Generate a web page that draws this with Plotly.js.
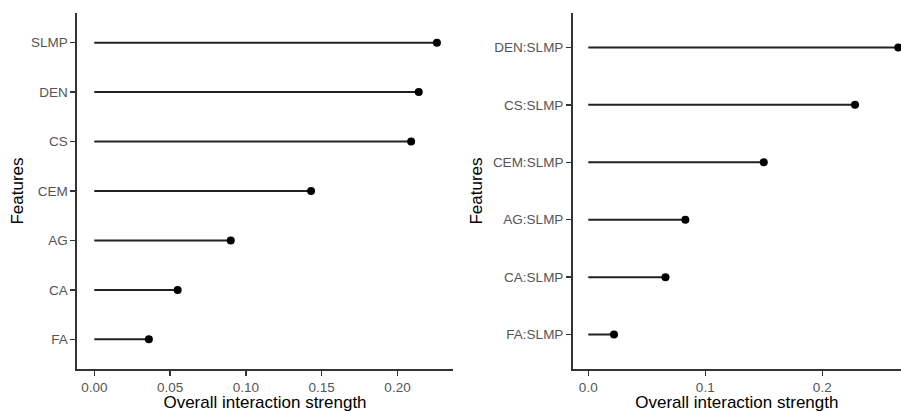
<!DOCTYPE html>
<html>
<head>
<meta charset="utf-8">
<script src="https://cdn.plot.ly/plotly-3.0.1.min.js"></script>
<style>html,body{margin:0;padding:0;background:#fff;}#chart{width:901px;height:412px;}</style>
</head>
<body>
<div id="chart"></div>
<script>
// Left panel: overall interaction strength per feature (top to bottom)
const featuresLeft = ['SLMP', 'DEN', 'CS', 'CEM', 'AG', 'CA', 'FA'];
const strengthLeft = [0.226, 0.214, 0.209, 0.143, 0.090, 0.055, 0.036];

// Right panel: two-way interaction strength with SLMP (top to bottom)
const featuresRight = ['DEN:SLMP', 'CS:SLMP', 'CEM:SLMP', 'AG:SLMP', 'CA:SLMP', 'FA:SLMP'];
const strengthRight = [0.265, 0.228, 0.150, 0.083, 0.066, 0.022];

const xTicksLeft = [0, 0.05, 0.10, 0.15, 0.20];
const xTickTextLeft = ['0.00', '0.05', '0.10', '0.15', '0.20'];
const xTicksRight = [0, 0.1, 0.2];
const xTickTextRight = ['0.0', '0.1', '0.2'];

function segments(cats, vals) {
  const x = [], y = [];
  cats.forEach((c, i) => { x.push(0, vals[i], null); y.push(c, c, null); });
  return {x, y};
}

const segL = segments(featuresLeft, strengthLeft);
const segR = segments(featuresRight, strengthRight);

const traces = [
  {type: 'scatter', mode: 'lines', x: segL.x, y: segL.y, xaxis: 'x', yaxis: 'y',
   line: {color: '#222', width: 2}, hoverinfo: 'skip', showlegend: false},
  {type: 'scatter', mode: 'markers', x: strengthLeft, y: featuresLeft, xaxis: 'x', yaxis: 'y',
   marker: {color: '#000', size: 8}, showlegend: false, cliponaxis: false},
  {type: 'scatter', mode: 'lines', x: segR.x, y: segR.y, xaxis: 'x2', yaxis: 'y2',
   line: {color: '#222', width: 2}, hoverinfo: 'skip', showlegend: false},
  {type: 'scatter', mode: 'markers', x: strengthRight, y: featuresRight, xaxis: 'x2', yaxis: 'y2',
   marker: {color: '#000', size: 8}, showlegend: false, cliponaxis: false}
];

const tickFont = {family: 'Liberation Sans, Arial, sans-serif', size: 13.5, color: '#555'};
const titleFont = {family: 'Liberation Sans, Arial, sans-serif', size: 17, color: '#000'};

const common = {
  showline: true, linecolor: '#333', linewidth: 1.6,
  ticks: 'outside', ticklen: 5, tickcolor: '#333', tickwidth: 1.3,
  showgrid: false, zeroline: false, tickfont: tickFont, fixedrange: true
};

const yDomain = [(412 - 369) / 412, (412 - 13) / 412];

const layout = {
  width: 901, height: 412,
  margin: {l: 0, r: 0, t: 0, b: 0},
  paper_bgcolor: '#fff', plot_bgcolor: '#fff',
  font: {family: 'Liberation Sans, Arial, sans-serif'},
  xaxis: Object.assign({}, common, {
    domain: [77 / 901, 453 / 901], range: [-0.0114, 0.2366], anchor: 'y',
    tickvals: xTicksLeft, ticktext: xTickTextLeft,
    title: {text: 'Overall interaction strength', font: titleFont, standoff: 4}
  }),
  yaxis: Object.assign({}, common, {
    domain: yDomain, type: 'category', categoryorder: 'array', categoryarray: featuresLeft,
    range: [6.6, -0.6], anchor: 'x',
    title: {text: 'Features', font: titleFont, standoff: 3}
  }),
  xaxis2: Object.assign({}, common, {
    domain: [572.7 / 901, 1], range: [-0.0133, 0.2673], anchor: 'y2',
    tickvals: xTicksRight, ticktext: xTickTextRight,
    title: {text: 'Overall interaction strength', font: titleFont, standoff: 4}
  }),
  yaxis2: Object.assign({}, common, {
    domain: yDomain, type: 'category', categoryorder: 'array', categoryarray: featuresRight,
    range: [5.6, -0.6], anchor: 'x2',
    title: {text: 'Features', font: titleFont, standoff: 6}
  })
};

Plotly.newPlot('chart', traces, layout, {displayModeBar: false, staticPlot: true});
</script>
</body>
</html>
